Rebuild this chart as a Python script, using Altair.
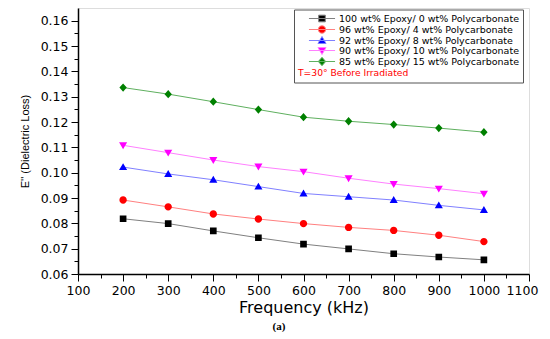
import altair as alt
import pandas as pd

freq = [200, 300, 400, 500, 600, 700, 800, 900, 1000]
series_names = [
    "100 wt% Epoxy/ 0 wt% Polycarbonate",
    "96 wt% Epoxy/ 4 wt% Polycarbonate",
    "92 wt% Epoxy/ 8 wt% Polycarbonate",
    "90 wt% Epoxy/ 10 wt% Polycarbonate",
    "85 wt% Epoxy/ 15 wt% Polycarbonate",
]
e100 = [0.0818, 0.0799, 0.0770, 0.0743, 0.0718, 0.0699, 0.0680, 0.0667, 0.0656]
e96 = [0.0892, 0.0865, 0.0837, 0.0817, 0.0799, 0.0784, 0.0772, 0.0753, 0.0728]
e92 = [0.1022, 0.0995, 0.0972, 0.0945, 0.0918, 0.0905, 0.0892, 0.0871, 0.0853]
e90 = [0.1108, 0.1079, 0.1050, 0.1024, 0.1004, 0.0978, 0.0955, 0.0937, 0.0917]
e85 = [0.1336, 0.1310, 0.1280, 0.1249, 0.1219, 0.1203, 0.1190, 0.1176, 0.1160]
all_values = [e100, e96, e92, e90, e85]

marker_colors = ["#000000", "#ff0000", "#0000ff", "#ff00ff", "#008000"]
line_colors = ["#808080", "#ff8080", "#8080ff", "#ff80ff", "#5fb05f"]

# marker glyphs (unit path scaled by sqrt(size)/2) with a legend line segment
seg = " M-2.9,0H2.9"
shapes = [
    "M-0.74,-0.74H0.74V0.74H-0.74Z" + seg,
    "M-0.82,0A0.82,0.82 0 1,0 0.82,0A0.82,0.82 0 1,0 -0.82,0Z" + seg,
    "M0,-0.88L0.9,0.66L-0.9,0.66Z" + seg,
    "M0,0.88L0.9,-0.66L-0.9,-0.66Z" + seg,
    "M0,-0.92L0.82,0L0,0.92L-0.82,0Z" + seg,
]

x_major = [100, 200, 300, 400, 500, 600, 700, 800, 900, 1000, 1100]
x_minor = [150, 250, 350, 450, 550, 650, 750, 850, 950, 1050]
y_major = [0.06, 0.07, 0.08, 0.09, 0.10, 0.11, 0.12, 0.13, 0.14, 0.15, 0.16]
y_minor = [0.065, 0.075, 0.085, 0.095, 0.105, 0.115, 0.125, 0.135, 0.145, 0.155]

rows = []
for name, vals in zip(series_names, all_values):
    for f, v in zip(freq, vals):
        rows.append({"Frequency": f, "E": v, "Series": name})
df = pd.DataFrame(rows)

W, H = 451, 266
xscale = alt.Scale(domain=[100, 1100], nice=False, zero=False)
yscale = alt.Scale(domain=[0.06, 0.165], nice=False, zero=False)
stroke_scale = alt.Scale(domain=series_names, range=line_colors)

FONT = "DejaVu Sans"
SYM = 81

legend_cfg = dict(
    orient="none", legendX=216, legendY=1.5,
    title="T=30° Before Irradiated", titleOrient="bottom", titleAnchor="start",
    titleColor="#ff0000", titleFont=FONT, titleFontSize=9.2,
    titleFontWeight="normal", titlePadding=1,
    labelFont=FONT, labelFontSize=9.5, labelColor="#000", labelLimit=400,
    symbolSize=SYM, symbolOffset=19, labelOffset=12,
    symbolStrokeWidth=1,
    rowPadding=-2.3, padding=4,
    strokeColor="#555555", fillColor="#ffffff",
)

base = alt.Chart(df)

lines = base.mark_line(strokeWidth=1).encode(
    x=alt.X("Frequency:Q", scale=xscale, axis=None),
    y=alt.Y("E:Q", scale=yscale, axis=None),
    stroke=alt.Stroke("Series:N", scale=stroke_scale, legend=alt.Legend(**legend_cfg)),
    detail="Series:N",
)

points = base.mark_point(filled=True, size=SYM, opacity=1, strokeWidth=0).encode(
    x=alt.X("Frequency:Q", scale=xscale,
            axis=alt.Axis(values=x_major, orient="bottom", format="d", title="Frequency (kHz)",
                          labelFont=FONT, labelFontSize=12.5, labelColor="#000",
                          labelOffset={"condition": {"test": "datum.value == 1100", "value": -7}, "value": 0},
                          titleFont=FONT, titleFontSize=16, titleFontWeight="normal",
                          titleColor="#000", titlePadding=3,
                          tickSize=7, tickColor="#000", tickWidth=1,
                          domainColor="#000", domainWidth=1.5, labelPadding=3,
                          grid=False, labelFlush=False)),
    y=alt.Y("E:Q", scale=yscale,
            axis=alt.Axis(values=y_major, orient="left", format=".2f", title="E'' (Dielectric Loss)",
                          labelFont=FONT, labelFontSize=12.5, labelColor="#000",
                          titleFont="Liberation Sans", titleFontSize=11, titleFontWeight="normal",
                          titleColor="#000", titlePadding=10,
                          tickSize=7, tickColor="#000", tickWidth=1,
                          domainColor="#000", domainWidth=1.5, labelPadding=3,
                          grid=False, labelFlush=False)),
    color=alt.Color("Series:N", scale=alt.Scale(domain=series_names, range=marker_colors),
                    legend=alt.Legend(**legend_cfg)),
    shape=alt.Shape("Series:N", scale=alt.Scale(domain=series_names, range=shapes),
                    legend=alt.Legend(**legend_cfg)),
    stroke=alt.Stroke("Series:N", scale=stroke_scale, legend=alt.Legend(**legend_cfg)),
)

minor = base.mark_point(opacity=0).encode(
    x=alt.X("Frequency:Q", scale=xscale,
            axis=alt.Axis(values=x_minor, orient="bottom", labels=False, title=None,
                          tickSize=4, tickColor="#000", domain=False, grid=False)),
    y=alt.Y("E:Q", scale=yscale,
            axis=alt.Axis(values=y_minor, orient="left", labels=False, title=None,
                          tickSize=4, tickColor="#000", domain=False, grid=False)),
)

caption = alt.Chart(pd.DataFrame({"t": ["(a)"]})).mark_text(
    font="Liberation Serif", fontSize=11, fontWeight="bold", color="#000", align="center", baseline="middle"
).encode(text="t:N", x=alt.value(201), y=alt.value(319))

chart = alt.layer(lines, points, minor, caption).resolve_axis(
    x="independent", y="independent"
).properties(
    width=W, height=H,
    autosize=alt.AutoSizeParams(type="none"),
    padding={"left": 70, "top": 0, "right": 13, "bottom": 58},
).configure_view(stroke="#999999", strokeWidth=1).configure(background="#ffffff")

chart.save("out.html", embed_options={"renderer": "svg", "actions": False})
